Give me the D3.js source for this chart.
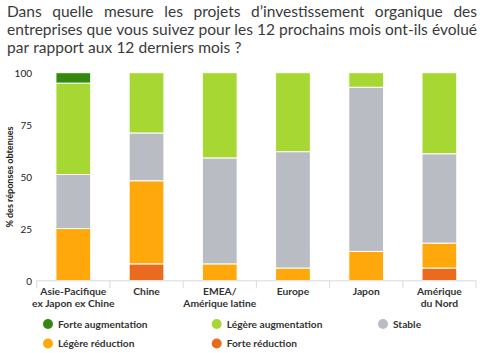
<!DOCTYPE html>
<html><head><meta charset="utf-8">
<script src="https://cdn.jsdelivr.net/npm/d3@7"></script>
<style>
html,body{margin:0;padding:0;background:#fff;}
svg{display:block;font-family:Lato,"Noto Sans",sans-serif;}
</style></head>
<body><svg id="c" width="482" height="353"></svg>
<script>
const titleLines = [
  "Dans quelle mesure les projets d\u2019investissement organique des",
  "entreprises que vous suivez pour les 12 prochains mois ont-ils \u00e9volu\u00e9",
  "par rapport aux 12 derniers mois ?"
];
const categories = [["Asie-Pacifique","ex Japon ex Chine"],["Chine"],["EMEA/","Am\u00e9rique latine"],["Europe"],["Japon"],["Am\u00e9rique","du Nord"]];
const seriesNames = ["Forte r\u00e9duction","L\u00e9g\u00e8re r\u00e9duction","Stable","L\u00e9g\u00e8re augmentation","Forte augmentation"];
const forteReduction    = [0, 8, 0, 0, 0, 6];
const legereReduction   = [25, 40, 8, 6, 14, 12];
const stable            = [26, 23, 51, 56, 79, 43];
const legereAugmentation= [44, 29, 41, 38, 7, 39];
const forteAugmentation = [5, 0, 0, 0, 0, 0];
const yTicks = [0, 25, 50, 75, 100];
const yTitle = "% des r\u00e9ponses obtenues";
const colors = ["#eb6b1e","#fea80c","#b9bcc3","#a6d732","#34880f"];
const legendOrder = [4,3,2,1,0];

const svg = d3.select("#c");
const values = [forteReduction, legereReduction, stable, legereAugmentation, forteAugmentation];
const data = categories.map((c,i)=>{ const o={cat:c.join(" ")}; seriesNames.forEach((s,j)=>o[s]=values[j][i]); return o; });
const stack = d3.stack().keys(seriesNames)(data);

// Title, justified
const title = svg.append("g").attr("fill","#3a3a3a").style("font-size","14px");
// fit font size so that last line is ~233px wide
const probe = title.append("text").text(titleLines[2]);
const w14 = probe.node().getComputedTextLength();
probe.remove();
const fs = 14*233/w14;
title.style("font-size",fs+"px");
titleLines.forEach((line,li)=>{
  const words = line.split(" ");
  const y = 17 + li*18;
  const x0 = 7, x1 = 477;
  const ts = words.map(w => title.append("text").attr("y",y).text(w));
  const widths = ts.map(t=>t.node().getComputedTextLength());
  let gap = fs*0.27;
  if (li < titleLines.length-1) gap = (x1-x0-d3.sum(widths))/(words.length-1);
  let xx = x0;
  ts.forEach((t,i)=>{ t.attr("x",xx); xx += widths[i]+gap; });
});

const x = d3.scaleBand().domain(data.map(d=>d.cat)).range([36.7,476]).paddingInner(0.525).paddingOuter(0.2625);
const y = d3.scaleLinear().domain([0,100]).range([280.5,72.7]);

// bars
svg.append("g").selectAll("g").data(stack).join("g").attr("fill",(d,i)=>colors[i])
  .selectAll("rect").data(d=>d).join("rect")
  .attr("x",d=>x(d.data.cat)).attr("width",x.bandwidth())
  .attr("y",d=>y(d[1])).attr("height",d=>Math.max(0,y(d[0])-y(d[1])))
  .attr("stroke","#fff").attr("stroke-width",d=>(d[1]-d[0])>0?1:0);

// y axis labels
const ya = svg.append("g").style("font-size","10px").attr("fill","#222");
ya.selectAll("text").data(yTicks).join("text")
  .attr("x",32).attr("y",d=>y(d)+4).attr("text-anchor","end").text(d=>d);
svg.append("text").attr("transform","translate(13,177) rotate(-90)")
  .attr("text-anchor","middle").style("font-size","9px").style("font-weight","bold").attr("fill","#222").text(yTitle);

// x axis
const xa = svg.append("g");
xa.append("line").attr("x1",36.7).attr("x2",476).attr("y1",280.8).attr("y2",280.8).attr("stroke","#d7dbe6").attr("stroke-width",1);
const bounds = [0,1,2,3,4,5,6].map(i=>36.7 + i*x.step());
xa.selectAll("line.t").data(bounds).join("line").attr("class","t")
  .attr("x1",d=>d).attr("x2",d=>d).attr("y1",280.5).attr("y2",288).attr("stroke","#d7dbe6");
const lab = xa.selectAll("text").data(categories).join("text")
  .attr("text-anchor","middle").style("font-size","10.3px").style("font-weight","bold").attr("fill","#333")
  .attr("transform",(d,i)=>`translate(${x(data[i].cat)+x.bandwidth()/2},0)`);
lab.selectAll("tspan").data(d=>d).join("tspan").attr("x",0).attr("y",(d,i)=>295+i*12).text(d=>d);

// legend
const legPos = [[48,324],[216.7,324],[383,324],[48,343.5],[216.7,343.5]];
const lg = svg.append("g").selectAll("g").data(legendOrder).join("g")
  .attr("transform",(d,i)=>`translate(${legPos[i][0]},${legPos[i][1]})`);
lg.append("circle").attr("r",5).attr("fill",d=>colors[d]);
lg.append("text").attr("x",10).attr("y",3.5).style("font-size","10.2px").style("font-weight","bold").attr("fill","#333").text(d=>seriesNames[d]);
</script></body></html>
